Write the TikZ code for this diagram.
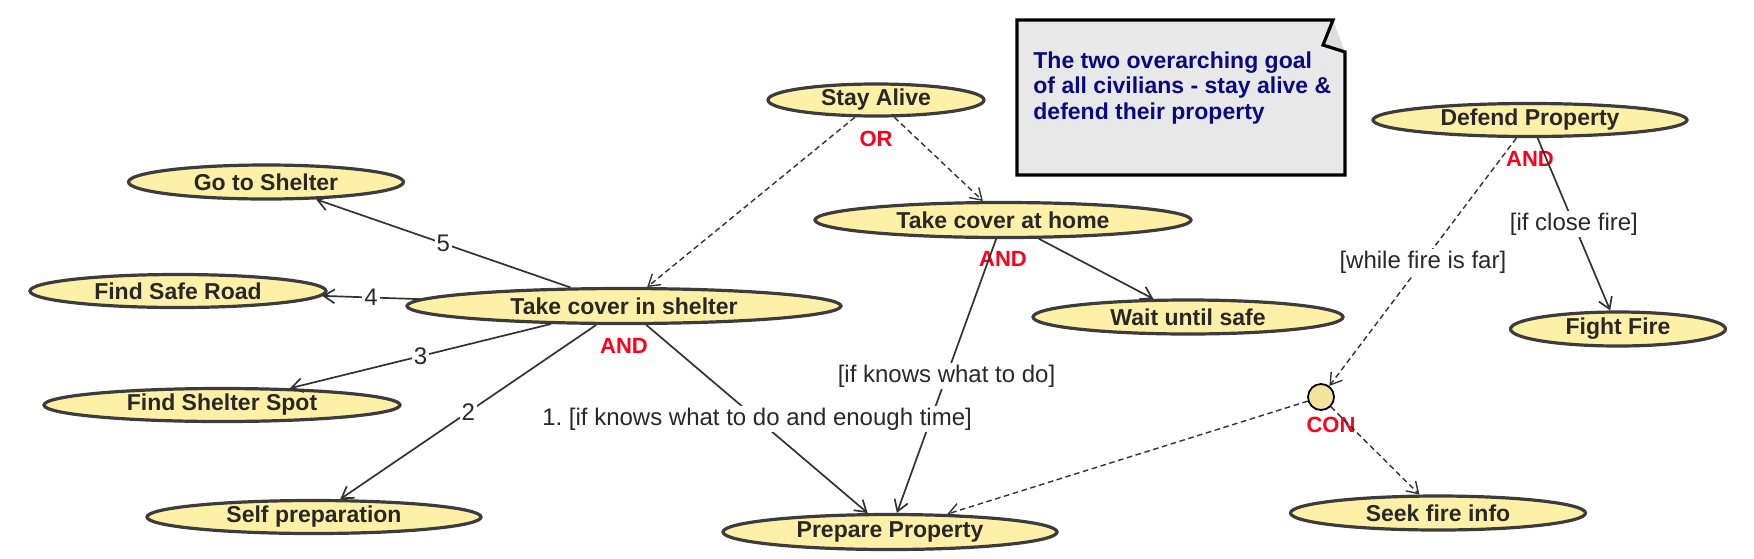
\documentclass[tikz,border=0pt]{standalone}
\usepackage{fontspec}
\setmainfont{Liberation Sans}
\usetikzlibrary{shapes.geometric,arrows.meta,positioning}
\definecolor{goalfill}{RGB}{255,240,168}
\definecolor{goaldraw}{RGB}{60,60,60}
\definecolor{goaltext}{RGB}{40,40,40}
\definecolor{gatered}{RGB}{255,0,28}
\definecolor{confill}{RGB}{242,228,156}
\definecolor{notefill}{RGB}{232,232,232}
\definecolor{noteflap}{RGB}{222,222,222}
\definecolor{notetext}{RGB}{10,10,128}
\definecolor{linkcol}{RGB}{50,50,50}
\tikzset{
  goal/.style={ellipse, draw=goaldraw, fill=goalfill, line width=1.6pt, inner sep=0pt,
    text=goaltext, font=\fontsize{11.5}{13}\selectfont\bfseries},
  gate/.style={text=gatered, inner sep=0pt, font=\fontsize{11}{12}\selectfont\bfseries},
  link/.style={draw=linkcol, line width=0.85pt, -{Straight Barb[length=5.5pt,width=7pt]}},
  optlink/.style={link, line width=0.7pt, dash pattern=on 2.8pt off 1.8pt},
  cond/.style={fill=white, inner sep=1pt, text=goaltext, font=\fontsize{12}{14}\selectfont},
}
\frenchspacing
\begin{document}
\begin{tikzpicture}[x=0.5pt,y=-0.5pt]
\useasboundingbox (0,0) rectangle (1754,558);
% note box with folded corner
\fill[noteflap] (1333,20) -- (1345,52) -- (1323,45) -- cycle;
\draw[fill=notefill, line width=1.6pt, line join=miter] (1017,20) -- (1333,20) -- (1323,45) -- (1345,52) -- (1345,175) -- (1017,175) -- cycle;
\node[anchor=north west, align=left, inner sep=0pt, text=notetext, font=\fontsize{11.5}{12.8}\selectfont\bfseries] (notetxt) at (1033,51) {The two overarching goal\\of all civilians - stay alive \&\\defend their property};
% goals
\node[goal, minimum width=108pt, minimum height=16pt] (alive) at (876,100) {Stay Alive};
\node[goal, minimum width=217pt, minimum height=17.5pt] (shelter) at (624,306) {Take cover in shelter};
\node[goal, minimum width=188pt, minimum height=17.5pt] (home) at (1003,220) {Take cover at home};
\node[goal, minimum width=137.5pt, minimum height=17pt] (goshelter) at (266,182) {Go to Shelter};
\node[goal, minimum width=148pt, minimum height=16.5pt] (saferoad) at (178,291) {Find Safe Road};
\node[goal, minimum width=178pt, minimum height=16.5pt] (spot) at (222,405) {Find Shelter Spot};
\node[goal, minimum width=167pt, minimum height=16.5pt] (selfprep) at (314,517) {Self preparation};
\node[goal, minimum width=167pt, minimum height=17.5pt] (prepare) at (890,532) {Prepare Property};
\node[goal, minimum width=155pt, minimum height=17pt] (wait) at (1188,317) {Wait until safe};
\node[goal, minimum width=157pt, minimum height=16.5pt] (defend) at (1530,120) {Defend Property};
\node[goal, minimum width=107.5pt, minimum height=17pt] (fight) at (1618,329) {Fight Fire};
\node[goal, minimum width=147.5pt, minimum height=17pt] (seek) at (1438,513) {Seek fire info};
\node[circle, draw=black, fill=confill, line width=0.9pt, minimum size=13pt, inner sep=0pt] (con) at (1321,397) {};
% decompositions
\node[gate, below=6.5pt of alive] (alivegate) {OR};
\node[gate, below=6.5pt of shelter] (sheltergate) {AND};
\node[gate, below=6pt of home] (homegate) {AND};
\node[gate, below=6.5pt of defend] (defendgate) {AND};
\node[gate, below=3pt of con, xshift=5pt] (congate) {CON};
% links
\draw[optlink] (alive) -- (shelter);
\draw[optlink] (alive) -- (home);
\draw[link] (home) -- node[cond] {[if knows what to do]} (prepare);
\draw[link] (home) -- (wait);
\draw[link] (shelter) -- node[cond] {5} (goshelter);
\draw[link] (shelter) -- node[cond] {4} (saferoad);
\draw[link] (shelter) -- node[cond] {3} (spot);
\draw[link] (shelter) -- node[cond] {2} (selfprep);
\draw[link] (shelter) -- node[cond] {1. [if knows what to do and enough time]} (prepare);
\draw[optlink] (defend) -- node[cond] {[while fire is far]} (con);
\draw[link] (defend) -- node[cond] {[if close fire]} (fight);
\draw[optlink] (con) -- (prepare);
\draw[optlink] (con) -- (seek);
\end{tikzpicture}
\end{document}
